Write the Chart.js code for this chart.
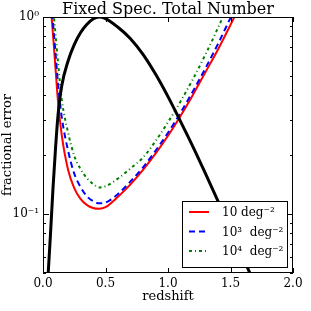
<!DOCTYPE html>
<html>
<head>
<meta charset="utf-8">
<script src="https://cdn.jsdelivr.net/npm/chart.js@4.4.1/dist/chart.umd.min.js"></script>
<style>
  html, body { margin: 0; padding: 0; background: #fff; }
</style>
</head>
<body>
<canvas id="myChart" width="311" height="311"></canvas>
<script>
// redshift grid the curves were read at
const redshift = [0.04, 0.06, 0.08, 0.1, 0.12, 0.15, 0.2, 0.25, 0.3, 0.35, 0.4, 0.45, 0.5,
                  0.6, 0.7, 0.8, 0.9, 1.0, 1.1, 1.2, 1.3, 1.4, 1.5, 1.6, 1.7];
// black curve (no legend entry)
const totalNumber = [0.048, 0.079, 0.135, 0.214, 0.316, 0.447, 0.596, 0.724, 0.832, 0.916, 0.977, 1.0, 0.982,
                     0.887, 0.776, 0.646, 0.513, 0.394, 0.295, 0.219, 0.160, 0.116, 0.084, 0.060, 0.043];
const err10 = [2.0, 1.2, 0.815, 0.55, 0.372, 0.251, 0.168, 0.135, 0.119, 0.111, 0.107, 0.106, 0.108,
               0.122, 0.141, 0.167, 0.202, 0.249, 0.314, 0.403, 0.525, 0.684, 0.912, 1.23, 1.65];
const err1e3 = [3.0, 1.5, 0.94, 0.66, 0.46, 0.31, 0.21, 0.16, 0.137, 0.123, 0.116, 0.113, 0.114,
                0.126, 0.146, 0.172, 0.209, 0.258, 0.326, 0.42, 0.55, 0.73, 0.99, 1.33, 1.8];
const err1e4 = [4.0, 1.8, 1.15, 0.82, 0.59, 0.38, 0.26, 0.197, 0.169, 0.152, 0.142, 0.136, 0.138,
                0.151, 0.170, 0.193, 0.234, 0.292, 0.372, 0.484, 0.646, 0.881, 1.23, 1.74, 2.4];

const chartTitle = 'Fixed Spec. Total Number';
const legendLabels = ['10 deg\u207B\u00B2', '10\u00B3  deg\u207B\u00B2', '10\u2074  deg\u207B\u00B2'];
const xTicks = [0, 0.5, 1.0, 1.5, 2.0];
const yTicks = [0.1, 1];
const yMinorTicks = [0.05, 0.06, 0.07, 0.08, 0.09, 0.2, 0.3, 0.4, 0.5, 0.6, 0.7, 0.8, 0.9];

const serif = "'DejaVu Serif', serif";
Chart.defaults.color = '#000';
Chart.defaults.font.family = serif;

function pts(ys){
  return redshift.map((z, i) => ({x: z, y: ys[i]}));
}

function lineSet(label, ys, color, width, dash){
  return {
    label: label,
    data: pts(ys),
    borderColor: color,
    borderWidth: width,
    borderDash: dash,
    pointRadius: 0,
    showLine: true,
    fill: false,
    cubicInterpolationMode: 'monotone',
    clip: 0
  };
}

// inward ticks on all four sides + full frame + title over the axes
const frameTicks = {
  id: 'frameTicks',
  afterDatasetsDraw(chart){
    const {ctx, chartArea: a, scales: {x, y}} = chart;
    ctx.save();
    ctx.strokeStyle = '#000';
    ctx.lineWidth = 1;
    ctx.beginPath();
    xTicks.forEach(v => {
      const px = Math.round(x.getPixelForValue(v)) + 0.5;
      ctx.moveTo(px, a.bottom); ctx.lineTo(px, a.bottom - 5);
      ctx.moveTo(px, a.top); ctx.lineTo(px, a.top + 5);
    });
    yTicks.forEach(v => {
      const py = Math.round(y.getPixelForValue(v)) + 0.5;
      ctx.moveTo(a.left, py); ctx.lineTo(a.left + 6, py);
      ctx.moveTo(a.right, py); ctx.lineTo(a.right - 6, py);
    });
    yMinorTicks.forEach(v => {
      const py = Math.round(y.getPixelForValue(v)) + 0.5;
      ctx.moveTo(a.left, py); ctx.lineTo(a.left + 3, py);
      ctx.moveTo(a.right, py); ctx.lineTo(a.right - 3, py);
    });
    ctx.stroke();
    ctx.strokeRect(a.left + 0.5, a.top + 0.5, a.right - a.left - 1, a.bottom - a.top - 1);

    ctx.fillStyle = '#000';
    ctx.font = '16px ' + serif;
    ctx.textAlign = 'center';
    ctx.textBaseline = 'alphabetic';
    ctx.fillText(chartTitle, (a.left + a.right) / 2, a.top - 3);
    ctx.restore();
  }
};

// legend box in the lower right corner
const boxLegend = {
  id: 'boxLegend',
  afterDraw(chart){
    const {ctx, chartArea: a} = chart;
    const w = 105, h = 66;
    const bx = a.right - 6 - w, by = a.bottom - 6 - h;
    ctx.save();
    ctx.fillStyle = '#fff';
    ctx.fillRect(bx, by, w, h);
    ctx.strokeStyle = '#000';
    ctx.lineWidth = 1;
    ctx.strokeRect(Math.round(bx) + 0.5, Math.round(by) + 0.5, w, h);
    legendLabels.forEach((lab, i) => {
      const ds = chart.data.datasets.find(d => d.label === lab);
      const ry = by + 11 + i * 19.5;
      ctx.beginPath();
      ctx.strokeStyle = ds.borderColor;
      ctx.lineWidth = ds.borderWidth;
      ctx.setLineDash(ds.borderDash || []);
      ctx.moveTo(bx + 7, ry);
      ctx.lineTo(bx + 27, ry);
      ctx.stroke();
      ctx.setLineDash([]);
      ctx.fillStyle = '#000';
      ctx.font = '12px ' + serif;
      ctx.textBaseline = 'middle';
      ctx.textAlign = 'left';
      ctx.fillText(lab, bx + 40, ry + 1);
    });
    ctx.restore();
  }
};

const ctx = document.getElementById('myChart').getContext('2d');
new Chart(ctx, {
  type: 'scatter',
  data: {
    datasets: [
      lineSet('total', totalNumber, '#000000', 3, []),
      lineSet(legendLabels[2], err1e4, '#008000', 2, [3, 3, 1, 3]),
      lineSet(legendLabels[1], err1e3, '#0000ff', 2, [6, 4]),
      lineSet(legendLabels[0], err10, '#ff0000', 2, [])
    ]
  },
  options: {
    responsive: false,
    animation: false,
    devicePixelRatio: 1,
    layout: { padding: { left: 0, right: 18, top: 17, bottom: 0 } },
    plugins: {
      legend: { display: false },
      tooltip: { enabled: false },
      title: { display: false }
    },
    scales: {
      x: {
        type: 'linear',
        min: 0,
        max: 2,
        afterBuildTicks: s => { s.ticks = xTicks.map(v => ({value: v})); },
        afterFit: s => { s.height = 38; },
        grid: { display: false, drawTicks: false },
        border: { display: false },
        ticks: {
          font: { family: serif, size: 12 },
          padding: 4,
          maxRotation: 0,
          autoSkip: false,
          callback: v => v.toFixed(1)
        },
        title: {
          display: true,
          text: 'redshift',
          font: { family: serif, size: 13 },
          padding: { top: 0, bottom: 7 }
        }
      },
      y: {
        type: 'logarithmic',
        min: 0.05,
        max: 1,
        afterBuildTicks: s => { s.ticks = yTicks.map(v => ({value: v})); },
        afterFit: s => { s.width = 43; },
        grid: { display: false, drawTicks: false },
        border: { display: false },
        ticks: {
          font: { family: serif, size: 12 },
          padding: 4,
          autoSkip: false,
          callback: v => (v === 1 ? '10\u2070' : '10\u207B\u00B9')
        },
        title: {
          display: true,
          text: 'fractional error',
          font: { family: serif, size: 13 },
          padding: { top: 0, bottom: 0 }
        }
      }
    }
  },
  plugins: [frameTicks, boxLegend]
});
</script>
</body>
</html>
